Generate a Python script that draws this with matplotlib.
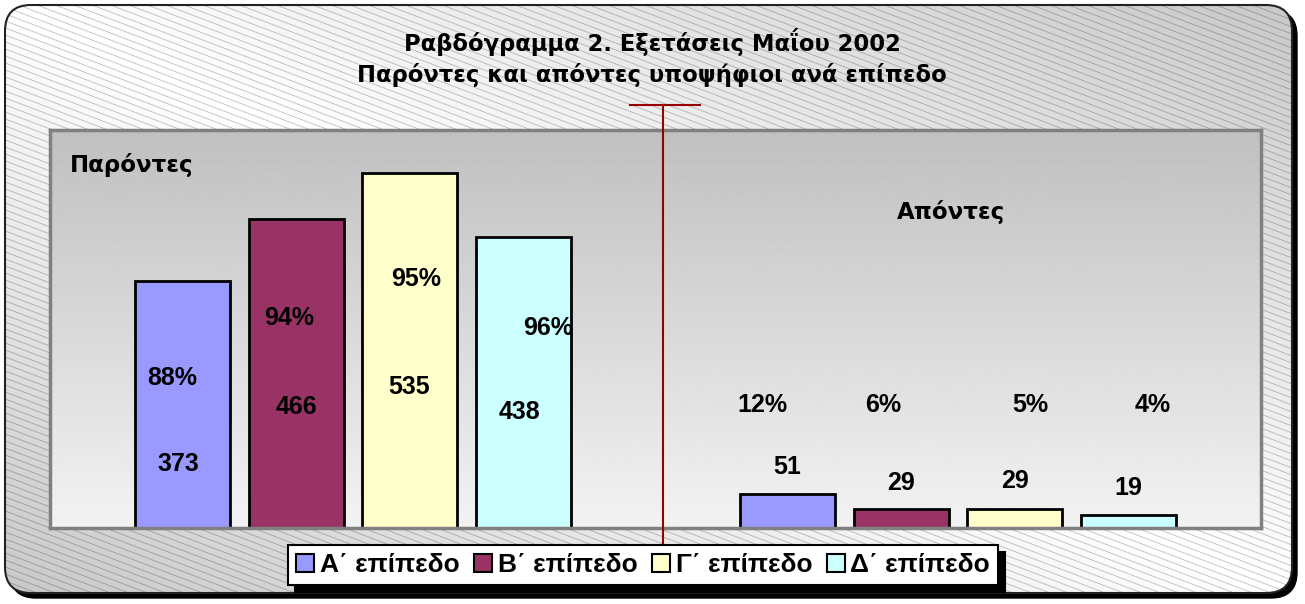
import matplotlib.pyplot as plt
import numpy as np
from matplotlib.patches import FancyBboxPatch, Patch
from matplotlib.collections import LineCollection
from matplotlib.lines import Line2D

# Εξετάσεις Μαΐου 2002 - παρόντες / απόντες ανά επίπεδο
levels = [ 'Α΄ επίπεδο', 'Β΄ επίπεδο', 'Γ΄ επίπεδο', 'Δ΄ επίπεδο' ]
present = [ 373, 466, 535, 438 ]
absent = [ 51, 29, 29, 19 ]
colors = [ '#9999FF', '#993366', '#FFFFCC', '#CCFFFF' ]

title_1 = 'Ραβδόγραμμα 2. Εξετάσεις Μαΐου 2002'
title_2 = 'Παρόντες και απόντες υποψήφιοι ανά επίπεδο'

# label placement (x offset from bar centre, y in data units), set by hand as in the original
pres_pct_pos = [ ( -0.09, 226 ), ( -0.06, 316 ), ( 0.06, 375 ), ( 0.22, 301 ) ]
pres_val_pos = [ ( -0.04, 96 ), ( 0.0, 182 ), ( 0.0, 212 ), ( -0.03, 175 ) ]
abs_pct_pos = [ ( -0.22, 185 ), ( -0.16, 185 ), ( 0.14, 185 ), ( 0.22, 185 ) ]
abs_val_pos = [ ( 0.0, 92 ), ( 0.0, 68 ), ( 0.0, 71 ), ( 0.0, 60 ) ]

W, H = 1305, 604
fig = plt.figure( figsize = ( W / 100, H / 100 ), dpi = 100 )

# ---- chart area background: rounded frame, diagonal gradient, hatch lines
ax_bg = fig.add_axes( [ 0, 0, 1, 1 ] )
ax_bg.set_xlim( 0, W )
ax_bg.set_ylim( H, 0 )
ax_bg.axis( 'off' )

shadow = FancyBboxPatch( ( 10, 10 ), 1287, 588, boxstyle = 'round,pad=0,rounding_size=26',
                         fc = 'black', ec = 'black', lw = 1, zorder = 0 )
ax_bg.add_patch( shadow )
frame = FancyBboxPatch( ( 5, 5 ), 1287, 588, boxstyle = 'round,pad=0,rounding_size=26',
                        fc = 'none', ec = '#222222', lw = 1.5, zorder = 3 )
ax_bg.add_patch( frame )

u = np.linspace( 0, 1, W )
v = np.linspace( 0, 1, H )
uu, vv = np.meshgrid( u, v )
grad = 1 - 0.22 * np.abs( uu - vv )
img = ax_bg.imshow( grad, cmap = 'gray', vmin = 0, vmax = 1, extent = [ 0, W, H, 0 ],
                    aspect = 'auto', zorder = 1, interpolation = 'bilinear' )
img.set_clip_path( frame )

slope = 0.38
segs = [ [ ( 0, y0 ), ( W, y0 + slope * W ) ] for y0 in np.arange( -520, H, 7 ) ]
hatch = LineCollection( segs, colors = 'black', alpha = 0.25, linewidths = 0.6, zorder = 2 )
ax_bg.add_collection( hatch )
hatch.set_clip_path( frame )

# ---- plot area
ax = fig.add_axes( [ 50 / W, 76 / H, 1211 / W, 398 / H ] )
ax.patch.set_visible( False )

pg = np.linspace( 0.753, 0.95, 200 ).reshape( -1, 1 )
ax.imshow( pg, cmap = 'gray', vmin = 0, vmax = 1, extent = [ 0, 1, 0, 1 ],
           transform = ax.transAxes, aspect = 'auto', zorder = 0 )
ax.set_xlim( -1.167, 9.5 )
ax.set_ylim( 0, 600 )

x_pres = np.arange( 4 )
x_abs = np.arange( 4 ) + 5.33
ax.bar( x_pres, present, width = 0.837, color = colors, edgecolor = 'black', lw = 2, zorder = 2 )
ax.bar( x_abs, absent, width = 0.837, color = colors, edgecolor = 'black', lw = 2, zorder = 2 )

lbl = dict( fontsize = 18, fontweight = 'bold', family = 'Liberation Sans',
            ha = 'center', va = 'center', zorder = 4 )
for i in range( 4 ):
    total = present[i] + absent[i]
    p_pct = round( 100 * present[i] / total )
    a_pct = round( 100 * absent[i] / total )
    ax.text( x_pres[i] + pres_pct_pos[i][0], pres_pct_pos[i][1], f'{p_pct}%', **lbl )
    ax.text( x_pres[i] + pres_val_pos[i][0], pres_val_pos[i][1], str( present[i] ), **lbl )
    ax.text( x_abs[i] + abs_pct_pos[i][0], abs_pct_pos[i][1], f'{a_pct}%', **lbl )
    ax.text( x_abs[i] + abs_val_pos[i][0], abs_val_pos[i][1], str( absent[i] ), **lbl )

ax.text( 0.0165, 0.912, 'Παρόντες', transform = ax.transAxes, fontsize = 16.5,
         fontweight = 'bold', ha = 'left', va = 'center' )
ax.text( 0.744, 0.794, 'Απόντες', transform = ax.transAxes, fontsize = 16.5,
         fontweight = 'bold', ha = 'center', va = 'center' )

ax.set_xticks( [] )
ax.set_yticks( [] )
for s in ax.spines.values():
    s.set_color( '#808080' )
    s.set_linewidth( 2.5 )

# ---- titles
fig.text( 652 / W, 1 - 42 / H, title_1, fontsize = 16.3, fontweight = 'bold', ha = 'center', va = 'center' )
fig.text( 652 / W, 1 - 75 / H, title_2, fontsize = 16.3, fontweight = 'bold', ha = 'center', va = 'center' )

# ---- dark red separator drawn over the chart
fig.add_artist( Line2D( [ 663 / W, 663 / W ], [ 1 - 105 / H, 1 - 543 / H ], color = '#990000', lw = 1.5 ) )
fig.add_artist( Line2D( [ 630 / W, 700 / W ], [ 1 - 105 / H, 1 - 105 / H ], color = '#990000', lw = 1.5 ) )

# ---- legend
handles = [ Patch( facecolor = c, edgecolor = 'black', lw = 1.5 ) for c in colors ]
leg = fig.legend( handles, levels, loc = 'center', bbox_to_anchor = ( 643 / W, 1 - 565 / H ),
                  ncol = 4, prop = { 'family': 'Liberation Sans', 'weight': 'bold', 'size': 19 },
                  handlelength = 0.7, handleheight = 0.7, handletextpad = 0.2,
                  columnspacing = 0.55, borderpad = 0.3, borderaxespad = 0, fancybox = False,
                  shadow = { 'color': 'black', 'alpha': 1, 'ox': 5, 'oy': -5 } )
leg.get_frame().set_edgecolor( 'black' )
leg.get_frame().set_linewidth( 1.5 )
leg.get_frame().set_alpha( 1 )

fig.savefig( 'out.png', dpi = 100 )
